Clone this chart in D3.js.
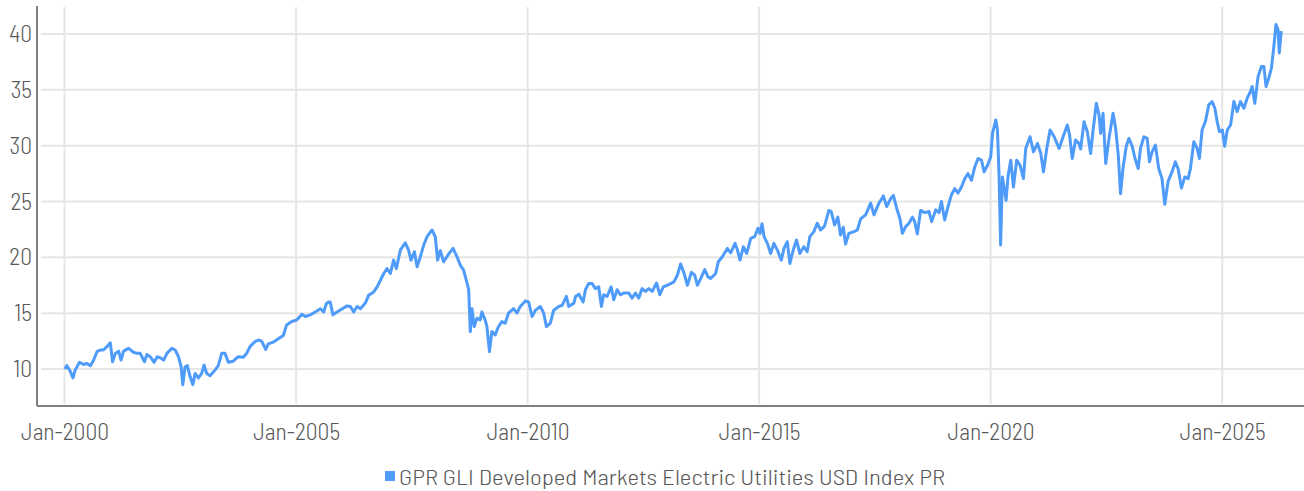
<!DOCTYPE html>
<html>
<head>
<meta charset="utf-8">
<script src="https://cdn.jsdelivr.net/npm/d3@7"></script>
<style>
  html, body { margin: 0; padding: 0; background: #fff; }
  svg text { font-family: "Barlow Semi Condensed", "Roboto Condensed", "Liberation Sans Narrow", "DejaVu Sans Condensed", sans-serif; fill: #595959; }
</style>
</head>
<body>
<div id="chart"></div>
<script>
// series name
const seriesName = "GPR GLI Developed Markets Electric Utilities USD Index PR";

const dates = [
  "2000-01-03","2000-01-20","2000-02-15","2000-03-08","2000-03-25","2000-04-28","2000-05-30","2000-06-25","2000-07-23","2000-08-18",
  "2000-09-13","2000-10-09","2000-11-03","2000-11-30","2000-12-27","2001-01-14","2001-02-05","2001-03-03","2001-03-22","2001-04-11",
  "2001-05-20","2001-06-28","2001-07-25","2001-08-20","2001-09-23","2001-10-12","2001-11-07","2001-12-08","2002-01-01","2002-01-26",
  "2002-02-21","2002-03-19","2002-04-27","2002-05-23","2002-06-18","2002-07-09","2002-07-22","2002-08-09","2002-08-27","2002-09-18",
  "2002-10-09","2002-10-27","2002-11-22","2002-12-18","2003-01-06","2003-01-27","2003-02-22","2003-04-02","2003-04-28","2003-05-25",
  "2003-06-20","2003-07-16","2003-08-24","2003-10-02","2003-11-11","2003-12-08","2004-01-03","2004-02-12","2004-03-09","2004-04-04",
  "2004-05-06","2004-05-26","2004-07-04","2004-08-13","2004-09-22","2004-10-18","2004-11-27","2005-01-08","2005-02-16","2005-03-14",
  "2005-04-22","2005-06-01","2005-07-11","2005-08-06","2005-08-27","2005-09-14","2005-09-27","2005-10-18","2005-11-19","2006-01-01",
  "2006-02-07","2006-03-05","2006-03-31","2006-04-27","2006-05-23","2006-07-01","2006-07-27","2006-09-05","2006-10-02","2006-10-28",
  "2006-11-23","2006-12-19","2007-01-14","2007-02-09","2007-03-03","2007-04-03","2007-05-12","2007-06-07","2007-06-26","2007-07-23",
  "2007-08-13","2007-09-08","2007-10-04","2007-10-31","2007-12-09","2008-01-04","2008-01-22","2008-02-12","2008-03-10","2008-04-18",
  "2008-05-23","2008-06-23","2008-07-19","2008-08-14","2008-09-04","2008-09-23","2008-10-06","2008-10-19","2008-11-06","2008-11-27",
  "2008-12-23","2009-01-05","2009-01-31","2009-02-14","2009-03-06","2009-03-25","2009-04-20","2009-05-16","2009-06-12","2009-07-08",
  "2009-08-03","2009-09-12","2009-10-09","2009-11-04","2009-12-14","2010-01-09","2010-02-05","2010-03-03","2010-04-11","2010-05-08",
  "2010-05-29","2010-06-29","2010-07-25","2010-09-03","2010-09-30","2010-11-03","2010-11-21","2011-01-01","2011-01-14","2011-02-09",
  "2011-03-15","2011-04-02","2011-04-28","2011-05-25","2011-06-20","2011-07-16","2011-08-06","2011-08-24","2011-09-20","2011-10-22",
  "2011-11-11","2011-12-08","2012-01-03","2012-01-29","2012-03-09","2012-04-04","2012-05-01","2012-05-27","2012-06-22","2012-07-19",
  "2012-08-14","2012-09-10","2012-10-14","2012-11-09","2012-12-06","2013-01-07","2013-02-02","2013-02-28","2013-03-27","2013-04-22",
  "2013-05-18","2013-06-14","2013-07-16","2013-08-11","2013-09-01","2013-09-27","2013-10-29","2013-11-24","2013-12-15","2014-01-23",
  "2014-02-13","2014-03-17","2014-04-25","2014-05-22","2014-06-25","2014-07-14","2014-08-03","2014-08-30","2014-09-25","2014-10-27",
  "2014-11-27","2014-12-23","2015-01-08","2015-01-24","2015-02-09","2015-03-07","2015-04-02","2015-04-28","2015-05-25","2015-06-25",
  "2015-07-16","2015-08-11","2015-09-01","2015-09-27","2015-10-23","2015-11-18","2015-12-20","2016-01-15","2016-02-05","2016-03-08",
  "2016-04-03","2016-04-30","2016-05-31","2016-07-04","2016-07-23","2016-08-18","2016-09-13","2016-10-04","2016-10-26","2016-11-13",
  "2016-12-09","2017-01-18","2017-02-14","2017-03-12","2017-04-20","2017-05-30","2017-06-25","2017-08-03","2017-09-07","2017-10-03",
  "2017-11-04","2017-11-25","2017-12-21","2018-01-16","2018-02-04","2018-03-02","2018-03-28","2018-04-24","2018-05-12","2018-06-02",
  "2018-06-28","2018-07-30","2018-09-02","2018-09-23","2018-10-25","2018-11-20","2018-12-09","2019-01-04","2019-01-30","2019-02-26",
  "2019-03-24","2019-04-19","2019-05-16","2019-06-11","2019-07-07","2019-08-03","2019-08-29","2019-09-24","2019-10-21","2019-11-11",
  "2019-12-08","2020-01-02","2020-01-16","2020-02-11","2020-02-24","2020-03-08","2020-03-20","2020-04-03","2020-04-16","2020-05-02",
  "2020-05-18","2020-06-08","2020-06-29","2020-07-25","2020-08-20","2020-09-16","2020-10-04","2020-11-07","2020-12-04","2021-01-05",
  "2021-01-31","2021-02-21","2021-03-19","2021-04-14","2021-05-16","2021-06-24","2021-07-21","2021-08-28","2021-09-15","2021-10-06",
  "2021-11-01","2021-11-28","2021-12-11","2022-01-07","2022-02-02","2022-02-28","2022-03-18","2022-04-14","2022-05-05","2022-05-18",
  "2022-06-06","2022-06-27","2022-07-23","2022-08-24","2022-09-13","2022-10-04","2022-10-22","2022-11-10","2022-12-06","2022-12-27",
  "2023-01-22","2023-02-12","2023-03-10","2023-03-28","2023-04-24","2023-05-20","2023-06-07","2023-06-28","2023-07-24","2023-08-19",
  "2023-09-14","2023-10-06","2023-11-01","2023-12-02","2023-12-28","2024-01-19","2024-02-14","2024-03-12","2024-04-07","2024-04-25",
  "2024-05-22","2024-06-17","2024-07-05","2024-07-26","2024-08-21","2024-09-17","2024-10-13","2024-11-04","2024-11-22","2024-12-10",
  "2025-01-02","2025-01-20","2025-02-10","2025-03-08","2025-04-03","2025-04-29","2025-05-25","2025-06-21","2025-07-17","2025-08-12",
  "2025-08-25","2025-09-15","2025-10-11","2025-11-06","2025-11-25","2025-12-13","2026-01-03","2026-01-24","2026-02-11","2026-03-01",
  "2026-03-17","2026-03-27","2026-04-12"
];

// index level at each date
const values = [
  10.0,10.3,9.8,9.2,9.9,10.6,10.4,10.5,10.3,10.8,
  11.55,11.7,11.7,12.0,12.35,10.65,11.4,11.6,10.8,11.6,
  11.85,11.5,11.4,11.4,10.65,11.3,11.1,10.6,11.1,11.0,
  10.8,11.4,11.85,11.7,11.1,10.2,8.6,10.2,10.3,9.3,
  8.6,9.6,9.2,9.6,10.35,9.6,9.4,9.9,10.3,11.4,
  11.4,10.6,10.7,11.1,11.05,11.4,12.0,12.45,12.6,12.5,
  11.75,12.25,12.4,12.7,13.0,13.95,14.25,14.4,14.9,14.7,
  14.85,15.1,15.4,15.1,15.85,16.0,16.0,14.85,15.1,15.4,
  15.65,15.6,15.1,15.6,15.4,15.9,16.6,16.9,17.35,17.95,
  18.55,19.0,18.55,19.75,19.0,20.65,21.3,20.65,19.75,20.5,
  19.15,20.05,21.1,21.85,22.45,21.8,19.75,20.6,19.6,20.3,
  20.8,20.05,19.3,18.85,17.95,17.1,13.35,15.4,13.8,14.55,
  14.4,15.1,14.4,13.8,11.55,13.35,13.05,13.8,14.25,14.1,
  15.0,15.4,15.0,15.6,16.1,16.0,14.7,15.25,15.6,15.0,
  13.8,14.1,15.25,15.6,15.7,16.5,15.6,15.9,16.5,16.7,
  16.0,17.1,17.65,17.65,17.2,17.35,15.6,16.65,16.5,17.35,
  16.2,17.1,16.65,16.8,16.8,16.35,16.8,16.35,17.2,16.95,
  17.2,16.95,17.7,16.65,17.35,17.5,17.65,17.8,18.4,19.4,
  18.6,17.5,18.65,18.4,17.5,18.1,18.9,18.25,18.1,18.55,
  19.6,20.05,20.8,20.4,21.25,20.65,19.75,20.95,20.35,21.7,
  21.85,22.6,22.15,23.0,21.85,21.25,20.35,21.25,20.65,19.75,
  20.8,21.4,19.45,20.65,21.55,20.35,20.95,20.5,21.85,22.3,
  23.05,22.45,22.8,24.2,24.1,22.9,23.6,22.0,22.7,21.2,
  22.15,22.3,22.45,23.45,23.8,24.85,23.8,24.85,25.5,24.55,
  25.25,25.55,24.4,23.45,22.15,22.75,23.05,23.6,23.2,22.1,
  24.2,24.0,24.1,23.2,24.25,24.0,25.0,23.35,24.55,25.6,
  26.15,25.75,26.3,27.05,27.5,26.9,28.1,28.85,28.7,27.65,
  28.25,29.0,31.1,32.3,31.4,27.2,21.1,27.2,26.3,25.1,
  27.3,28.7,26.3,28.7,28.25,27.05,29.75,30.8,29.45,30.2,
  29.3,27.65,29.75,31.4,30.8,29.75,30.65,31.85,30.95,28.85,
  30.5,30.2,29.7,32.15,31.25,29.3,31.25,33.8,32.75,31.1,
  32.9,28.4,30.65,32.9,31.55,29.15,25.7,27.95,29.95,30.65,
  29.95,28.9,27.95,29.75,30.8,30.65,28.55,29.45,30.05,27.95,
  27.05,24.75,26.8,27.65,28.55,27.95,26.2,27.2,27.05,27.95,
  30.35,29.75,28.85,31.4,32.15,33.65,33.95,33.35,32.15,31.25,
  31.4,29.95,31.4,31.85,33.95,33.05,33.95,33.35,34.25,34.85,
  35.3,33.8,36.2,37.1,37.1,35.3,36.05,36.95,38.75,40.85,
  40.4,38.3,40.25
];

// axis ticks
const yTicks = [10, 15, 20, 25, 30, 35, 40];
const xTickYears = [2000, 2005, 2010, 2015, 2020, 2025];

const W = 1304, H = 491;
const plotLeft = 37, plotRight = 1304, plotTop = 6, plotBottom = 406;

const parse = d3.timeParse("%Y-%m-%d");
const data = dates.map((d, i) => ({ date: parse(d), value: values[i] }));

const x = d3.scaleTime()
  .domain([new Date(1999, 4, 29), new Date(2026, 9, 8)])
  .range([plotLeft, plotRight]);
const y = d3.scaleLinear()
  .domain([6.687, 42.507])
  .range([plotBottom, plotTop]);

const svg = d3.select("#chart").append("svg")
  .attr("width", W)
  .attr("height", H);

// horizontal gridlines
svg.append("g")
  .selectAll("line")
  .data(yTicks)
  .join("line")
  .attr("x1", plotLeft + 4)
  .attr("x2", plotRight)
  .attr("y1", d => y(d))
  .attr("y2", d => y(d))
  .attr("stroke", "#e6e6e6")
  .attr("stroke-width", 2);

// vertical gridlines
const xTickDates = xTickYears.map(yr => new Date(yr, 0, 1));
svg.append("g")
  .selectAll("line")
  .data(xTickDates)
  .join("line")
  .attr("x1", d => x(d))
  .attr("x2", d => x(d))
  .attr("y1", plotTop + 1)
  .attr("y2", plotBottom - 2)
  .attr("stroke", "#e6e6e6")
  .attr("stroke-width", 2);

// y axis labels
const yAxis = d3.axisLeft(y).tickValues(yTicks).tickSize(0).tickPadding(5);
const gy = svg.append("g")
  .attr("transform", `translate(${plotLeft},0)`)
  .call(yAxis);
gy.select(".domain").remove();
gy.attr("font-family", null).attr("font-size", null);
gy.selectAll("text")
  .attr("font-size", 23.5)
  .attr("font-weight", 300);

// x axis labels
const xAxis = d3.axisBottom(x).tickValues(xTickDates).tickSize(0).tickPadding(17)
  .tickFormat(d3.timeFormat("%b-%Y"));
const gx = svg.append("g")
  .attr("transform", `translate(0,${plotBottom})`)
  .call(xAxis);
gx.select(".domain").remove();
gx.attr("font-family", null).attr("font-size", null);
gx.selectAll("text")
  .attr("font-size", 23.5)
  .attr("font-weight", 300);

// axis lines
svg.append("line")
  .attr("x1", plotLeft).attr("x2", plotLeft)
  .attr("y1", plotTop).attr("y2", plotBottom)
  .attr("stroke", "#7f7f7f").attr("stroke-width", 2);
svg.append("line")
  .attr("x1", plotLeft).attr("x2", plotRight)
  .attr("y1", plotBottom).attr("y2", plotBottom)
  .attr("stroke", "#7f7f7f").attr("stroke-width", 2);

// the series line
const line = d3.line()
  .x(d => x(d.date))
  .y(d => y(d.value));
svg.append("path")
  .datum(data)
  .attr("d", line)
  .attr("fill", "none")
  .attr("stroke", "#4e9bfa")
  .attr("stroke-width", 3)
  .attr("stroke-linejoin", "round");

// legend
const legend = svg.append("g").attr("transform", "translate(385,471)");
legend.append("rect")
  .attr("width", 10).attr("height", 10)
  .attr("fill", "#4e9bfa");
legend.append("text")
  .attr("x", 14)
  .attr("y", 13.5)
  .attr("font-size", 21)
  .attr("font-weight", 300)
  .attr("textLength", 546)
  .attr("lengthAdjust", "spacingAndGlyphs")
  .text(seriesName);
</script>
</body>
</html>
